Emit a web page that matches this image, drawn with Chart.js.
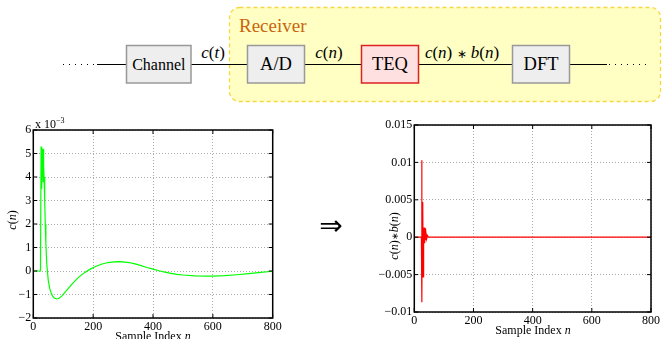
<!DOCTYPE html>
<html>
<head>
<meta charset="utf-8">
<script src="https://cdn.jsdelivr.net/npm/chart.js@4.4.0/dist/chart.umd.min.js"></script>
<style>
  body { margin: 0; background: #fff; font-family: "Liberation Serif", serif; }
  #page { position: relative; width: 662px; height: 339px; overflow: hidden; }
  .box { position: absolute; }
  .lbl { position: absolute; font-family: "Liberation Serif", serif; color: #000; white-space: nowrap; }
  svg text { font-family: "Liberation Serif", serif; }
</style>
</head>
<body>
<div id="page">
  <svg class="box" style="left:0;top:0" width="662" height="110">
    <rect x="229.5" y="7.5" width="431" height="94" rx="10" fill="#ffffc4" stroke="#f7d641" stroke-width="1.3" stroke-dasharray="4 3"/>
    <text x="239" y="32" fill="#c8660e" font-size="19">Receiver</text>
    <line x1="63" y1="64.5" x2="97" y2="64.5" stroke="#000" stroke-width="1" stroke-dasharray="1 5"/>
    <line x1="97" y1="64.5" x2="607" y2="64.5" stroke="#000" stroke-width="1"/>
    <line x1="609" y1="64.5" x2="646" y2="64.5" stroke="#000" stroke-width="1" stroke-dasharray="1 5"/>
    <rect x="126.5" y="45.5" width="64.5" height="37.5" fill="#eeeeee" stroke="#999" stroke-width="1.5"/>
    <text x="158.8" y="69.5" font-size="16" text-anchor="middle">Channel</text>
    <rect x="247.5" y="45.5" width="57" height="37.5" fill="#eeeeee" stroke="#999" stroke-width="1.5"/>
    <text x="276" y="70" font-size="18.5" text-anchor="middle">A/D</text>
    <rect x="361.5" y="45.5" width="57" height="37.5" fill="#ffe0e0" stroke="#dd2222" stroke-width="1.5"/>
    <text x="390" y="70" font-size="18.5" text-anchor="middle">TEQ</text>
    <rect x="512.5" y="45.5" width="57" height="37.5" fill="#eeeeee" stroke="#999" stroke-width="1.5"/>
    <text x="541" y="70" font-size="18.5" text-anchor="middle">DFT</text>
    <text x="213" y="58" font-size="17" text-anchor="middle"><tspan font-style="italic">c</tspan>(<tspan font-style="italic">t</tspan>)</text>
    <text x="329" y="58" font-size="17" text-anchor="middle"><tspan font-style="italic">c</tspan>(<tspan font-style="italic">n</tspan>)</text>
    <text x="462" y="58" font-size="17" text-anchor="middle"><tspan font-style="italic">c</tspan>(<tspan font-style="italic">n</tspan>) <tspan font-size="12">∗</tspan> <tspan font-style="italic">b</tspan>(<tspan font-style="italic">n</tspan>)</text>
  </svg>

  <div class="box" style="left:0;top:110px;width:290px;height:229px"><canvas id="leftChart"></canvas></div>
  <div class="box" style="left:370px;top:110px;width:292px;height:229px"><canvas id="rightChart"></canvas></div>

  <div class="lbl" style="left:35px;top:116px;font-size:12px">x 10<sup style="font-size:8px">−3</sup></div>
  <div class="lbl" style="left:12px;top:220px;font-size:12px;transform:translate(-50%,-50%) rotate(-90deg)"><i>c</i>(<i>n</i>)</div>
  <div class="lbl" style="left:153px;top:336px;font-size:12px;transform:translate(-50%,-50%)">Sample Index <i>n</i></div>
  <div class="lbl" style="left:394px;top:236px;font-size:12px;transform:translate(-50%,-50%) rotate(-90deg)"><i>c</i>(<i>n</i>)<span style="font-size:9px">∗</span><i>b</i>(<i>n</i>)</div>
  <div class="lbl" style="left:533px;top:330px;font-size:12px;transform:translate(-50%,-50%)">Sample Index <i>n</i></div>
  <div class="lbl" style="left:331px;top:225px;font-size:28px;font-family:'DejaVu Sans',sans-serif;transform:translate(-50%,-50%)">⇒</div>
</div>

<script>
// channel impulse response c(n), values in units of 1e-3
const leftN = [0, 24, 25, 26, 27, 28, 29, 30, 31, 32, 33, 34, 35, 36, 38, 40, 42, 45, 50, 55, 60, 65, 70, 78, 85, 95,
  110, 130, 150, 170, 190, 210, 230, 250, 270, 285, 300, 320, 340, 360, 380, 400, 420, 440, 460, 480, 500,
  540, 580, 600, 640, 680, 720, 760, 800];
const leftC = [0, 0, 0, 5.3, 3.6, 5.25, 3.5, 5.2, 4.0, 5.2, 3.8, 5.2, 4.5, 4.0, 3.0, 2.0, 1.2, 0.3, -0.4, -0.75, -0.95, -1.08, -1.15, -1.19, -1.17, -1.07,
  -0.85, -0.55, -0.28, -0.08, 0.08, 0.2, 0.3, 0.36, 0.39, 0.4, 0.39, 0.36, 0.3, 0.23, 0.15, 0.08, 0.01, -0.05, -0.1, -0.14, -0.17,
  -0.21, -0.22, -0.22, -0.2, -0.16, -0.11, -0.06, -0.01];

// shortened response c(n)*b(n)
const rightN = [0, 24, 25, 26, 27, 28, 29, 30, 31, 32, 33, 34, 35, 36, 37, 38, 40, 42, 45, 48, 800];
const rightCB = [0, 0, 0.0103, -0.0087, 0.0047, -0.003, 0.0045, -0.0053, 0.0012, -0.001, 0.0013, -0.0008, 0.0011, -0.0006, 0.0012, -0.0004, 0.0004, -0.0002, 0.0002, 0, 0];

const xTicks = [0, 200, 400, 600, 800];
const leftYTicks = ['−2', '−1', '0', '1', '2', '3', '4', '5', '6'];
const rightYTicks = ['−0.01', '−0.005', '0', '0.005', '0.01', '0.015'];

const tickFont = { family: 'Liberation Serif', size: 12 };

// matlab style box with inward ticks
const boxPlugin = {
  id: 'box',
  afterDraw(chart) {
    const { ctx, chartArea: a, scales } = chart;
    ctx.save();
    ctx.strokeStyle = '#000';
    ctx.lineWidth = 1;
    ctx.beginPath();
    scales.x.ticks.forEach(t => {
      const px = scales.x.getPixelForValue(t.value);
      ctx.moveTo(px, a.bottom); ctx.lineTo(px, a.bottom - 4);
      ctx.moveTo(px, a.top); ctx.lineTo(px, a.top + 4);
    });
    scales.y.ticks.forEach(t => {
      const py = scales.y.getPixelForValue(t.value);
      ctx.moveTo(a.left, py); ctx.lineTo(a.left + 4, py);
      ctx.moveTo(a.right, py); ctx.lineTo(a.right - 4, py);
    });
    ctx.stroke();
    ctx.lineWidth = 1.5;
    ctx.strokeRect(a.left, a.top, a.right - a.left, a.bottom - a.top);
    ctx.restore();
  }
};

function makeChart(id, xs, ys, color, yMin, yMax, yStep, yLabels, yWidth, xHeight, pad) {
  return new Chart(document.getElementById(id), {
    type: 'line',
    data: {
      datasets: [{
        data: xs.map((x, i) => ({ x: x, y: ys[i] })),
        borderColor: color,
        borderWidth: 1.2,
        pointRadius: 0,
        tension: 0
      }]
    },
    options: {
      responsive: true,
      maintainAspectRatio: false,
      animation: false,
      layout: { padding: pad },
      plugins: { legend: { display: false }, tooltip: { enabled: false } },
      scales: {
        x: {
          type: 'linear', min: 0, max: 800,
          afterBuildTicks: s => { s.ticks = xTicks.map(v => ({ value: v })); },
          ticks: { color: '#000', font: tickFont, padding: 2, maxRotation: 0 },
          grid: { color: '#aaa', drawTicks: false },
          border: { display: false, dash: [1, 2] },
          afterFit: s => { s.height = xHeight; }
        },
        y: {
          min: yMin, max: yMax,
          ticks: { stepSize: yStep, color: '#000', font: tickFont, padding: 2,
            callback: (v, i) => yLabels[i] },
          grid: { color: '#aaa', drawTicks: false },
          border: { display: false, dash: [1, 2] },
          afterFit: s => { s.width = yWidth; }
        }
      }
    },
    plugins: [boxPlugin]
  });
}

makeChart('leftChart', leftN, leftC, '#00ff00', -2, 6, 1, leftYTicks, 33.3, 21,
  { top: 20, right: 17.3, left: 0, bottom: 0 });
makeChart('rightChart', rightN, rightCB, '#ff0000', -0.01, 0.015, 0.005, rightYTicks, 44.3, 27,
  { top: 15, right: 9.3, left: 0, bottom: 0 });
</script>
</body>
</html>
